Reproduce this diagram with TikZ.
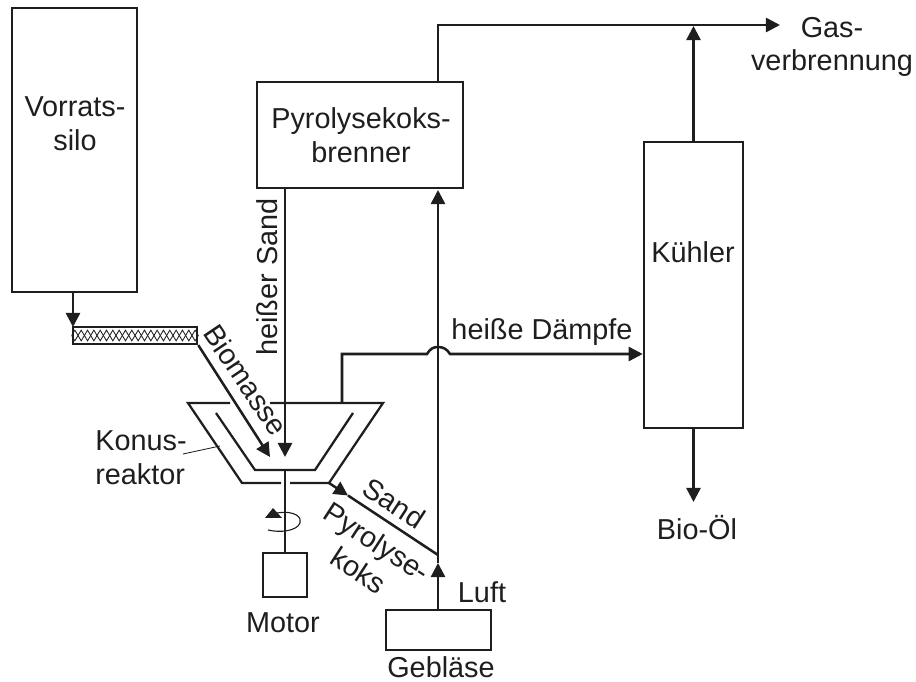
\documentclass[tikz,border=0pt]{standalone}
\usepackage{fontspec}
\setmainfont{Liberation Sans}
\usetikzlibrary{arrows.meta, decorations.pathmorphing}
\definecolor{inkgrey}{HTML}{1E1E1E}

\begin{document}
\begin{tikzpicture}[
    x=0.025cm, y=-0.025cm,
    box/.style={draw=inkgrey, line width=1.8pt, inner sep=0pt, align=center},
    label/.style={text=inkgrey, font=\fontsize{20.5}{24}\selectfont, inner sep=0pt, align=center},
    pipe/.style={draw=inkgrey, line width=1.8pt},
    flow/.style={pipe, -{Triangle[length=10pt, width=10pt]}},
    wall/.style={draw=inkgrey, line width=1.6pt},
    thread/.style={draw=inkgrey, line width=0.6pt, decorate},
  ]
    \useasboundingbox (0,0) rectangle (916,682);

    % boxes
    \node[box, minimum width=3.125cm, minimum height=7.1cm] (silo) at (74.5,150) {};
    \node[box, minimum width=5.15cm, minimum height=2.65cm] (burner) at (360,135) {};
    \node[box, minimum width=2.475cm, minimum height=7.15cm] (cooler) at (693.5,285) {};
    \node[box, minimum width=3.1cm, minimum height=0.42cm] (screw) at (135,335.5) {};
    \node[box, minimum width=1.1cm, minimum height=1.1cm] (motor) at (285,575) {};
    \node[box, minimum width=2.625cm, minimum height=1cm] (blower) at (438.5,630) {};
    \draw[thread, decoration={zigzag, segment length=9pt, amplitude=3.8pt}]
      (screw.west) -- (screw.east);
    \draw[thread, decoration={zigzag, segment length=9pt, amplitude=3.8pt, mirror}]
      (screw.west) -- (screw.east);

    % named points
    \coordinate (siloout) at (73,292);
    \coordinate (screwin) at (73,327);
    \coordinate (tipbio) at (270,457);
    \coordinate (tipsand) at (285,457);
    \coordinate (shaft) at (285,470);
    \coordinate (reactorout) at (329,483);
    \coordinate (join) at (438,555);
    \coordinate (vapour) at (342,403);
    \coordinate (gas) at (780,25);
    \coordinate (oil) at (693.5,502);

    % reactor
    \draw[wall] (230,403) -- (188,403) -- (242,483) -- (281,483);
    \draw[wall] (290,483) -- (reactorout) -- (383,403) -- (270,403);
    \draw[wall] (216,413) -- (255,470) -- (315,470) -- (353,413);

    % connectors
    \draw[flow] (siloout) -- (screwin);
    \draw[flow] (screw.south east) -- (tipbio);
    \draw[flow] (burner.south -| tipsand) -- (tipsand);
    \draw[pipe] (shaft) -- (motor.north);
    \draw[flow] (reactorout) -- (348,495.5);
    \draw[pipe] (348,495.5) -- (join);
    \draw[flow] (blower.north -| join) -- (438,563);
    \draw[flow] (438,563) -- (438,190);
    \draw[flow] (burner.north -| join) -- (438,25) -- (gas);
    \draw[flow] (cooler.north) -- (693.5,26);
    \draw[flow] (cooler.south) -- (oil);
    \draw[flow] (vapour) -- (342,354) -- (427,354)
      .. controls (430,349) and (433,347) .. (438,347)
      .. controls (443,347) and (447,349) .. (450,354) -- (cooler.west |- 0,354);
    \draw[inkgrey, line width=0.6pt] (183,454) -- (220,446);

    % rotation mark
    \draw[inkgrey, line width=0.8pt] (277,513) .. controls (296,510) and (302,518) .. (300,523)
      .. controls (297,531) and (280,533) .. (268,530);
    \fill[inkgrey] (273,508) -- (282,518) -- (265,518) -- cycle;

    % labels
    \node[label] (silotext) at (75,124) {Vorrats-\\silo};
    \node[label] (burnertext) at (361,135) {Pyrolysekoks-\\brenner};
    \node[label] (coolertext) at (693,252) {Kühler};
    \node[label, rotate=90] (hotsand) at (267,277) {heißer Sand};
    \node[label, rotate=-56] (biomass) at (246,380) {Biomasse};
    \node[label, align=left] (reactortext) at (141,458) {Konus-\\reaktor};
    \node[label] (vapourtext) at (542,332) {heiße Dämpfe};
    \node[label, rotate=-33] (sand) at (394,503) {Sand};
    \node[label, rotate=-33] (char) at (368,556) {Pyrolyse-\\koks};
    \node[label] (air) at (482,592) {Luft};
    \node[label] (motortext) at (283,623) {Motor};
    \node[label] (blowertext) at (441,667) {Gebläse};
    \node[label] (oiltext) at (697,528) {Bio-Öl};
    \node[label] (gastext) at (832,47) {Gas-\\verbrennung};
  \end{tikzpicture}
\end{document}
